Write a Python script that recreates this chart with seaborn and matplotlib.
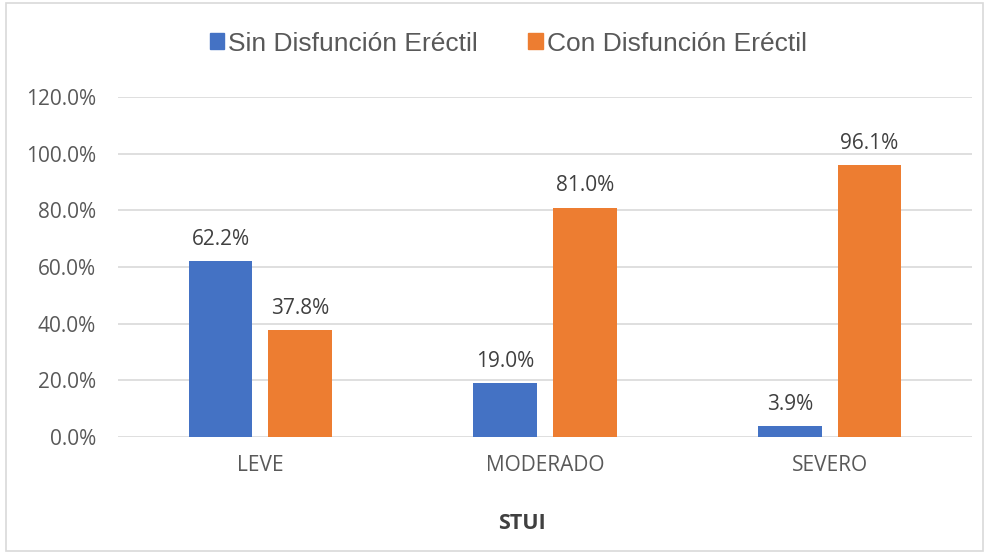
import pandas as pd
import matplotlib
matplotlib.use("Agg")
import matplotlib.pyplot as plt
import seaborn as sns
from matplotlib.patches import Rectangle

# Dados
categorias = ["LEVE", "MODERADO", "SEVERO"]
sin_de = [62.2, 19.0, 3.9]
con_de = [37.8, 81.0, 96.1]
series = ["Sin Disfunción Eréctil", "Con Disfunción Eréctil"]
cores = ["#4472C4", "#ED7D31"]

df = pd.DataFrame({
    "STUI": categorias * 2,
    "grupo": [series[0]] * 3 + [series[1]] * 3,
    "valor": sin_de + con_de,
})

sns.set_theme(style="white")
plt.rcParams["font.family"] = ["Open Sans", "DejaVu Sans"]

fig = plt.figure(figsize=(9.89, 5.54), dpi=100)
ax = fig.add_axes([0.1193, 0.2112, 0.8635, 0.6137])

sns.barplot(data=df, x="STUI", y="valor", hue="grupo", palette=cores,
            width=0.56, gap=0.2, saturation=1, linewidth=0, ax=ax, legend=False)

ax.set_ylim(0, 120)
ax.set_yticks(range(0, 121, 20))
ax.set_yticklabels([f"{v:.1f}%" for v in range(0, 121, 20)], color="#595959", fontsize=15)
ax.tick_params(axis="x", colors="#595959", labelsize=15, length=0, pad=13)
ax.tick_params(axis="y", length=0, pad=16)
ax.grid(axis="y", color="#D9D9D9", linewidth=1.2)
ax.set_axisbelow(True)
for s in ax.spines.values():
    s.set_visible(False)
ax.set_xlabel("STUI", fontsize=15.5, fontweight="bold", color="#404040")
ax.xaxis.set_label_coords(0.473, -0.225)
ax.set_ylabel("")

# Rótulos de dados
for cont in ax.containers:
    ax.bar_label(cont, labels=[f"{b.get_height():.1f}%" for b in cont],
                 padding=8, fontsize=15, color="#404040")

# Legenda
handles = [Rectangle((0, 0), 1, 1, color=c) for c in cores]
fig.legend(handles, series, loc="center", bbox_to_anchor=(0.514, 0.921), ncol=2,
           frameon=False, prop={"family": "Liberation Sans", "size": 19},
           handlelength=0.55, handleheight=0.55, handletextpad=0.15, columnspacing=1.9,
           labelcolor="#595959")

# Borda da figura
fig.patches.append(Rectangle((0.006, 0.006), 0.988, 0.988, transform=fig.transFigure,
                             fill=False, edgecolor="#D9D9D9", linewidth=1.2))

fig.savefig("out.png", dpi=100, facecolor="white")
